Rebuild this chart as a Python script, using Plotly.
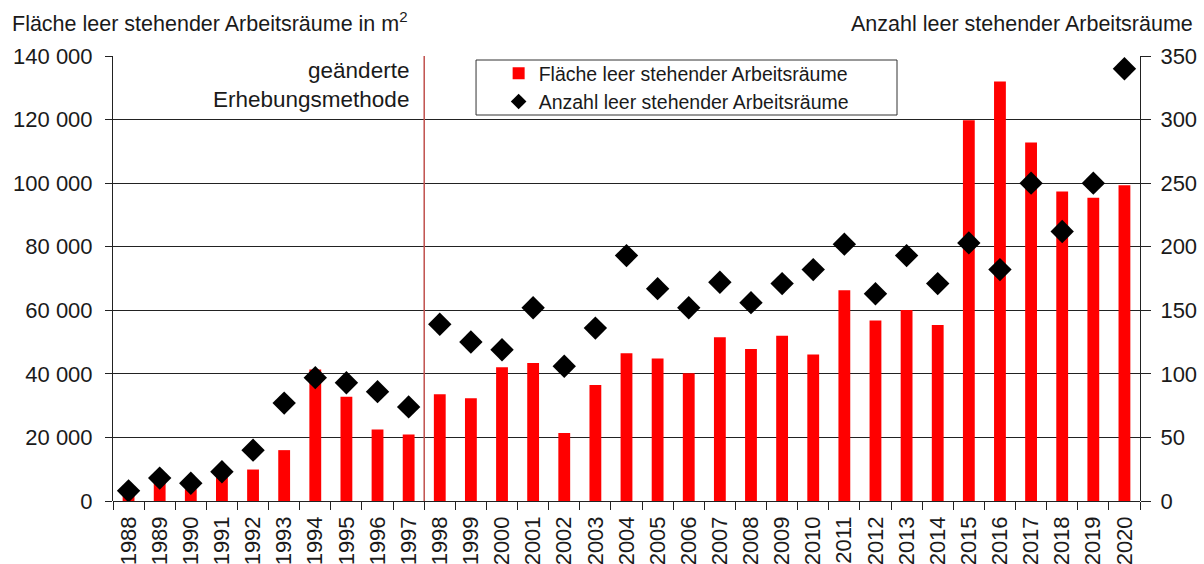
import plotly.graph_objects as go

years = [str(y) for y in range(1988, 2021)]
area = [1800, 6300, 3700, 7500, 9900, 16000, 41400, 32800, 22500, 20900,
        33600, 32300, 42100, 43400, 21400, 36500, 46500, 44800, 40200, 51500,
        47800, 52000, 46100, 66300, 56800, 60100, 55400, 119800, 132000, 112800,
        97400, 95400, 99300]
count = [8, 18, 14, 23, 40, 77, 97, 93, 86, 74,
         139, 125, 119, 152, 106, 136, 193, 167, 152, 172,
         156, 171, 182, 202, 163, 193, 171, 203, 182, 250,
         212, 250, 340]

name_area = "Fläche leer stehender Arbeitsräume"
name_count = "Anzahl leer stehender Arbeitsräume"
font_family = "Liberation Sans, Arial, sans-serif"
txt = "#1a1a1a"
axc = "#222"

fig = go.Figure()
fig.add_trace(go.Bar(x=years, y=area, name=name_area, marker_color="#ff0000",
                     marker_line_width=0, width=0.38, yaxis="y"))
fig.add_trace(go.Scatter(x=years, y=count, name=name_count, mode="markers",
                         marker=dict(symbol="diamond", size=18, color="black"),
                         yaxis="y2"))

fig.add_shape(type="line", xref="x", yref="paper", x0=9.5, x1=9.5, y0=0, y1=1,
              line=dict(color="#c0504d", width=1.5))
# legend frame
fig.add_shape(type="rect", xref="paper", yref="paper", x0=0.3535, x1=0.7634,
              y0=0.8674, y1=0.991, line=dict(color="#333", width=1),
              fillcolor="rgba(0,0,0,0)", layer="above")
fig.add_annotation(xref="x", yref="paper", x=9.5, y=1, xanchor="right", yanchor="top",
                   xshift=-13, yshift=0, align="right", showarrow=False,
                   text="geänderte<br>Erhebungsmethode",
                   font=dict(size=22.5, color=txt, family=font_family))
fig.add_annotation(xref="paper", yref="paper", x=-0.1003, y=1, xanchor="left",
                   yanchor="bottom", yshift=18, showarrow=False,
                   text="Fläche leer stehender Arbeitsräume in m<sup>2</sup>",
                   font=dict(size=21.5, color=txt, family=font_family))
fig.add_annotation(xref="paper", yref="paper", x=1.0535, y=1, xanchor="right",
                   yanchor="bottom", yshift=18, showarrow=False, text=name_count,
                   font=dict(size=21.5, color=txt, family=font_family))

fig.update_layout(
    width=1204, height=564,
    margin=dict(l=113, r=64, t=56, b=63),
    paper_bgcolor="white", plot_bgcolor="white",
    separators=", ",
    font=dict(family=font_family, size=22, color=txt),
    showlegend=True,
    legend=dict(x=0.3755, y=1.0045, xanchor="left", yanchor="top",
                borderwidth=0, bgcolor="rgba(0,0,0,0)",
                font=dict(size=19.5, color=txt), tracegroupgap=0,
                itemsizing="constant", itemwidth=30),
    xaxis=dict(type="category", tickangle=-90, tickson="boundaries",
               ticks="outside", ticklen=8, tickcolor=axc, automargin=False,
               showline=False, showgrid=False, tickfont=dict(size=22),
               ticklabelstandoff=10, range=[-0.5, 32.5]),
    yaxis=dict(range=[0, 140000], dtick=20000, tickformat=",d", automargin=False,
               showgrid=True, gridcolor=axc, gridwidth=1,
               showline=True, linecolor=axc, linewidth=1,
               ticks="outside", ticklen=7, tickcolor=axc,
               zeroline=True, zerolinecolor=axc, zerolinewidth=1,
               ticklabelstandoff=8, tickfont=dict(size=22)),
    yaxis2=dict(range=[0, 350], dtick=50, overlaying="y", side="right",
                automargin=False,
                showgrid=False, showline=True, linecolor=axc, linewidth=1,
                ticks="outside", ticklen=10, tickcolor=axc,
                zeroline=False, ticklabelstandoff=5, tickfont=dict(size=22)),
)

fig.write_html("out.html",
               config={"displayModeBar": False},
               post_script="document.body.style.margin='0';"
                           "document.body.style.overflow='hidden';")
